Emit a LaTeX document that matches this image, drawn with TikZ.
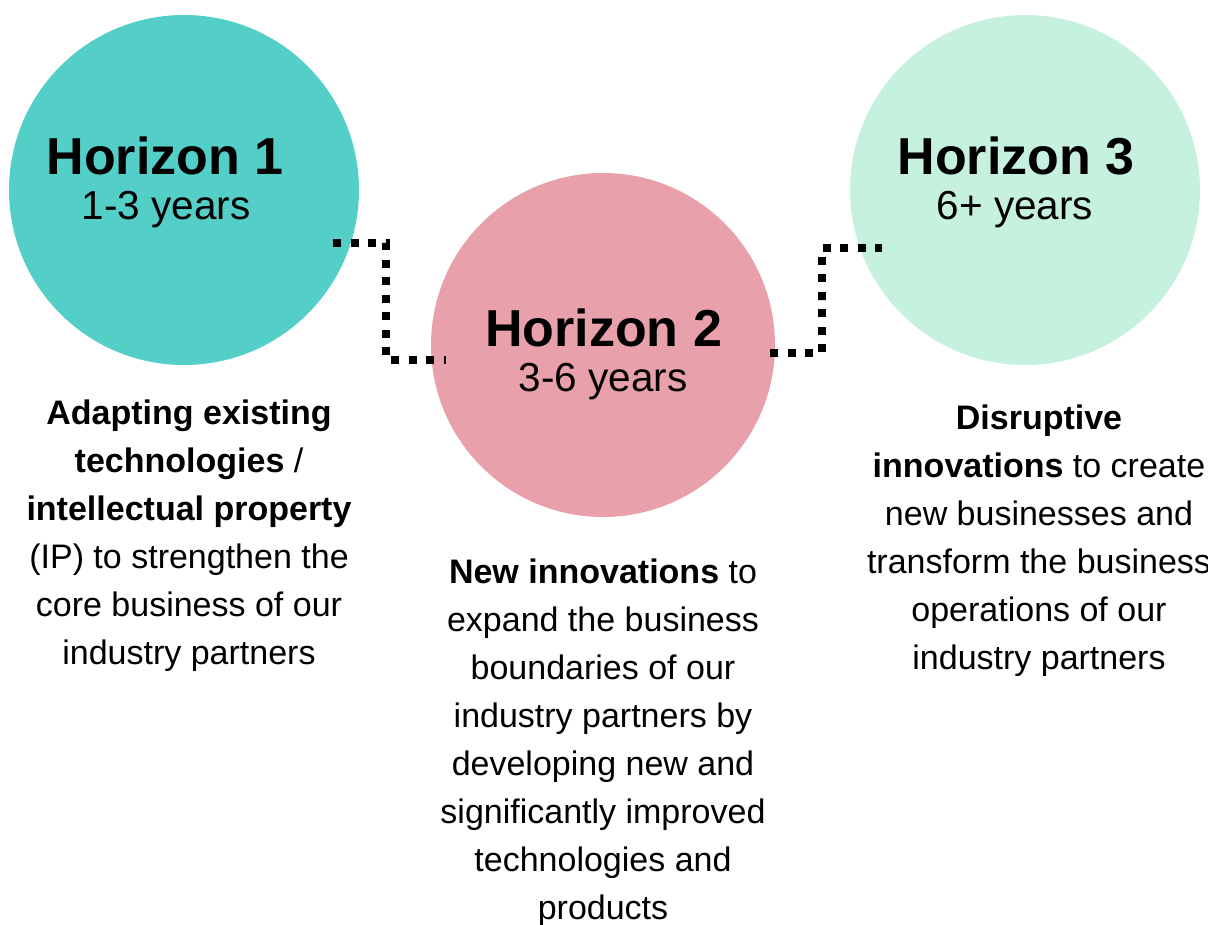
\documentclass[tikz,border=0pt]{standalone}
\usepackage{fontspec}
\setmainfont{Liberation Sans}
\usetikzlibrary{calc}
\definecolor{hteal}{HTML}{53CFC8}
\definecolor{hpink}{HTML}{E8A1AB}
\definecolor{hmint}{HTML}{C6F1DF}
\tikzset{
  horizon/.style={circle, inner sep=0pt, minimum size=#1},
  title/.style={anchor=base, inner sep=0pt, font=\fontsize{52}{60}\selectfont\bfseries},
  years/.style={anchor=base, inner sep=0pt, font=\fontsize{40.5}{46}\selectfont},
  body/.style={anchor=north, inner sep=0pt, align=center, font=\fontsize{34}{48}\selectfont},
  conn/.style={draw=black, line width=8pt, line cap=butt, dash pattern=on 8pt off 9.5pt}
}
\newcommand{\fl}{\rule{0pt}{34pt}}
\begin{document}
\begin{tikzpicture}[x=1pt, y=-1pt]
\useasboundingbox (0,0) rectangle (1208,925);
% circles
\node[horizon=350pt, fill=hteal] (h1) at (184,190) {};
\node[horizon=344pt, fill=hpink] (h2) at (603,345) {};
\node[horizon=350pt, fill=hmint] (h3) at (1025,190) {};
% connectors
\coordinate (a1) at ([shift={(149,53)}]h1.center);
\coordinate (b1) at ([shift={(-157,15)}]h2.center);
\coordinate (m1) at (386,300);
\coordinate (a2) at ([shift={(167,8)}]h2.center);
\coordinate (b2) at ([shift={(-143,58)}]h3.center);
\coordinate (m2) at (822,300);
\draw[conn] (a1) -| (m1) |- (b1);
\draw[conn] (a2) -| (m2) |- (b2);
% titles
\node[title] (t1) at (165,175) {Horizon 1};
\node[years] (y1) at (166,219.5) {1-3 years};
\node[title] (t2) at (603.5,347) {Horizon 2};
\node[years] (y2) at (603,391.5) {3-6 years};
\node[title] (t3) at (1016,175) {Horizon 3};
\node[years] (y3) at (1015,219.5) {6+ years};
% body texts
\node[body] (d1) at (189,390) {\fl\textbf{Adapting existing}\\
  \textbf{technologies} /\\
  \textbf{intellectual property}\\
  (IP) to strengthen the\\
  core business of our\\
  industry partners};
\node[body] (d2) at (603,549) {\fl\textbf{New innovations} to\\
  expand the business\\
  boundaries of our\\
  industry partners by\\
  developing new and\\
  significantly improved\\
  technologies and\\
  products};
\node[body] (d3) at (1039,395) {\fl\textbf{Disruptive}\\
  \textbf{innovations} to create\\
  new businesses and\\
  transform the business\\
  operations of our\\
  industry partners};
\end{tikzpicture}
\end{document}
